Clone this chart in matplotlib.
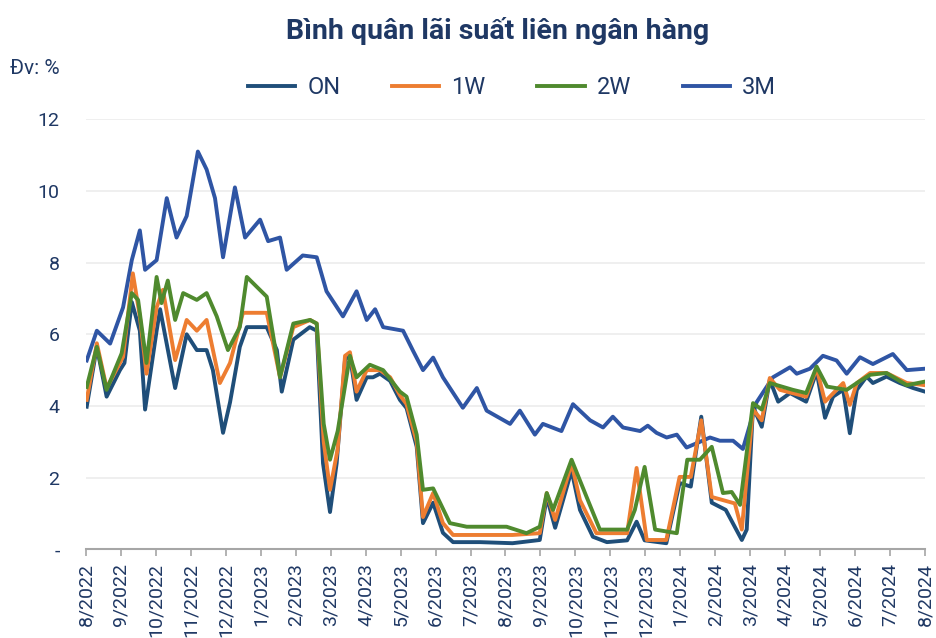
import matplotlib
matplotlib.use("Agg")
import matplotlib.pyplot as plt
from matplotlib.lines import Line2D

plt.rcParams['font.family'] = ['Roboto', 'DejaVu Sans']

# ---- data (months since 8/2022) ----
tick_labels = ["8/2022", "9/2022", "10/2022", "11/2022", "12/2022", "1/2023", "2/2023",
               "3/2023", "4/2023", "5/2023", "6/2023", "7/2023", "8/2023", "9/2023",
               "10/2023", "11/2023", "12/2023", "1/2024", "2/2024", "3/2024", "4/2024",
               "5/2024", "6/2024", "7/2024", "8/2024"]

on_x = [0.02, 0.31, 0.59, 0.97, 1.1, 1.31, 1.54, 1.69, 2.02, 2.12, 2.55, 2.88, 3.17, 3.45,
        3.63, 3.92, 4.12, 4.4, 4.6, 5.17, 5.46, 5.6, 5.93, 6.4, 6.6, 6.78, 6.98, 7.17, 7.41,
        7.55, 7.74, 8.03, 8.21, 8.41, 8.7, 8.98, 9.17, 9.46, 9.64, 9.93, 10.21, 10.5, 11.27,
        12.2, 12.98, 13.18, 13.42, 13.89, 14.13, 14.5, 14.9, 15.48, 15.75, 15.98, 16.6,
        16.98, 17.3, 17.6, 17.9, 18.3, 18.76, 18.9, 19.08, 19.33, 19.56, 19.8, 20.14, 20.6,
        20.9, 21.14, 21.37, 21.66, 21.85, 22.05, 22.33, 22.51, 22.9, 23.28, 23.66, 24.0]
on_y = [3.98, 5.65, 4.26, 5.0, 5.2, 6.9, 6.1, 3.9, 6.1, 6.7, 4.5, 6.0, 5.56, 5.56,
        5.0, 3.25, 4.1, 5.65, 6.2, 6.2, 5.56, 4.4, 5.85, 6.2, 6.1, 2.4, 1.04, 2.4, 5.3,
        5.4, 4.17, 4.8, 4.8, 4.9, 4.7, 4.17, 3.94, 2.86, 0.73, 1.3, 0.46, 0.2, 0.2,
        0.17, 0.26, 1.46, 0.6, 2.2, 1.1, 0.35, 0.2, 0.25, 0.77, 0.25, 0.17,
        1.85, 1.75, 3.7, 1.3, 1.1, 0.26, 0.55, 3.98, 3.42, 4.73, 4.12, 4.36, 4.12,
        4.96, 3.67, 4.26, 4.45, 3.24, 4.45, 4.82, 4.64, 4.82, 4.64, 4.5, 4.4]

w1_x = [0.02, 0.31, 0.59, 1.06, 1.34, 1.54, 1.73, 2.02, 2.2, 2.55, 2.88, 3.17, 3.45, 3.83,
        4.12, 4.49, 5.17, 5.55, 5.93, 6.41, 6.6, 6.8, 6.98, 7.2, 7.41, 7.55, 7.74, 8.03,
        8.41, 8.7, 8.98, 9.17, 9.46, 9.64, 9.93, 10.21, 10.5, 12.2, 12.98, 13.18, 13.42,
        13.89, 14.13, 14.6, 15.48, 15.75, 16.04, 16.6, 16.98, 17.3, 17.6, 17.9, 18.56,
        18.76, 19.08, 19.33, 19.56, 19.85, 20.6, 20.9, 21.14, 21.66, 21.85, 22.05, 22.43,
        22.9, 23.48, 24.0]
w1_y = [4.17, 5.75, 4.5, 5.37, 7.7, 6.5, 4.9, 6.75, 7.24, 5.28, 6.4, 6.1, 6.4, 4.64,
        5.2, 6.6, 6.6, 4.8, 6.2, 6.4, 6.3, 3.0, 1.66, 2.8, 5.4, 5.5, 4.4, 5.0,
        5.0, 4.8, 4.3, 4.05, 3.0, 0.9, 1.57, 0.73, 0.4, 0.4, 0.45, 1.57, 0.82,
        2.4, 1.37, 0.45, 0.45, 2.27, 0.26, 0.26, 2.02, 2.02, 3.6, 1.46, 1.28,
        0.55, 3.9, 3.6, 4.78, 4.45, 4.26, 5.05, 4.12, 4.64, 4.03, 4.64, 4.92,
        4.92, 4.64, 4.58]

w2_x = [0.02, 0.31, 0.59, 1.02, 1.31, 1.49, 1.73, 2.02, 2.16, 2.34, 2.55, 2.78, 3.17, 3.45,
        3.74, 4.06, 4.4, 4.6, 5.17, 5.55, 5.93, 6.41, 6.6, 6.8, 6.98, 7.2, 7.55, 7.74,
        8.12, 8.5, 8.98, 9.17, 9.46, 9.64, 9.93, 10.41, 10.89, 12.03, 12.6, 12.98, 13.18,
        13.36, 13.89, 14.32, 14.7, 15.48, 15.7, 15.98, 16.28, 16.9, 17.2, 17.56, 17.9,
        18.22, 18.47, 18.71, 19.08, 19.33, 19.56, 20.22, 20.6, 20.9, 21.2, 21.76, 22.05,
        22.43, 22.9, 23.48, 24.0]
w2_y = [4.53, 5.65, 4.45, 5.47, 7.15, 6.96, 5.2, 7.6, 6.87, 7.5, 6.4, 7.15, 6.96, 7.15,
        6.5, 5.56, 6.2, 7.6, 7.05, 4.8, 6.3, 6.4, 6.3, 3.5, 2.5, 3.3, 5.4, 4.8,
        5.15, 5.0, 4.4, 4.26, 3.2, 1.66, 1.7, 0.73, 0.63, 0.63, 0.45, 0.63, 1.57,
        1.1, 2.5, 1.46, 0.55, 0.55, 1.1, 2.3, 0.55, 0.45, 2.5, 2.5, 2.86,
        1.57, 1.6, 1.24, 4.08, 3.9, 4.64, 4.45, 4.36, 5.1, 4.54, 4.45, 4.64,
        4.87, 4.92, 4.58, 4.68]

m3_x = [0.02, 0.31, 0.69, 1.06, 1.31, 1.54, 1.69, 2.02, 2.31, 2.59, 2.88, 3.2, 3.45, 3.69,
        3.92, 4.26, 4.55, 4.98, 5.21, 5.55, 5.74, 6.2, 6.6, 6.88, 7.35, 7.74, 8.03, 8.27,
        8.5, 9.07, 9.35, 9.64, 9.93, 10.21, 10.78, 11.18, 11.46, 12.13, 12.41, 12.84,
        13.07, 13.6, 13.93, 14.42, 14.79, 15.07, 15.36, 15.85, 16.07, 16.32, 16.61, 16.9,
        17.18, 17.85, 18.13, 18.51, 18.79, 19.18, 19.65, 20.14, 20.33, 20.71, 21.08,
        21.47, 21.76, 22.14, 22.51, 23.08, 23.48, 24.0]
m3_y = [5.27, 6.1, 5.74, 6.75, 8.07, 8.9, 7.8, 8.07, 9.8, 8.7, 9.3, 11.1, 10.6, 9.8,
        8.15, 10.1, 8.7, 9.2, 8.6, 8.7, 7.8, 8.2, 8.15, 7.2, 6.5, 7.2, 6.4, 6.7,
        6.2, 6.1, 5.55, 5.0, 5.35, 4.8, 3.95, 4.5, 3.87, 3.5, 3.87, 3.2,
        3.5, 3.3, 4.05, 3.6, 3.4, 3.7, 3.4, 3.3, 3.45, 3.25, 3.12, 3.2,
        2.84, 3.12, 3.03, 3.03, 2.8, 4.1, 4.8, 5.08, 4.9, 5.04, 5.4,
        5.27, 4.9, 5.36, 5.17, 5.45, 5.0, 5.04]

y_ticks = [0, 2, 4, 6, 8, 10, 12]
y_tick_labels = ["-", "2", "4", "6", "8", "10", "12"]

# ---- style ----
TXT = "#1f3864"
C_ON = "#1f4e79"
C_1W = "#ed7d31"
C_2W = "#4f8a2e"
C_3M = "#2f55a4"

fig = plt.figure(figsize=(9.36, 6.38), dpi=100)
ax = fig.add_axes([86/936, 1 - 549.3/638, (925-86)/936, (549.3-119.3)/638])

lw = 2.8
ax.plot(m3_x, m3_y, color=C_3M, lw=lw, zorder=3)
ax.plot(on_x, on_y, color=C_ON, lw=lw, zorder=4)
ax.plot(w1_x, w1_y, color=C_1W, lw=lw, zorder=5)
ax.plot(w2_x, w2_y, color=C_2W, lw=lw, zorder=6)

ax.set_xlim(0, 24)
ax.set_ylim(0, 12)
ax.set_yticks(y_ticks)
ax.set_yticklabels(y_tick_labels, fontsize=14, color=TXT)
ax.tick_params(axis='y', length=0, pad=19)
ax.set_xticks(range(len(tick_labels)))
ax.set_xticklabels(tick_labels, rotation=90, fontsize=14, color=TXT, va='top')
ax.tick_params(axis='x', length=5, color="#a6a6a6", width=1.2, pad=5)

for s in ["top", "right", "left"]:
    ax.spines[s].set_visible(False)
ax.spines["bottom"].set_color("#a6a6a6")
ax.spines["bottom"].set_linewidth(1.5)
ax.grid(axis='y', color="#ececec", lw=1.2)
ax.set_axisbelow(True)

fig.text(498/936, 1 - 31/638, "Bình quân lãi suất liên ngân hàng", ha='center', va='center',
         fontsize=20.5, fontweight='bold', color=TXT)
fig.text(10/936, 1 - 68/638, "Đv: %", ha='left', va='center', fontsize=15, color=TXT)

handles = [Line2D([], [], color=c, lw=2.8) for c in (C_ON, C_1W, C_2W, C_3M)]
fig.legend(handles, ["ON", "1W", "2W", "3M"], loc='center', bbox_to_anchor=(512/936, 1 - 88/638),
           ncol=4, frameon=False, fontsize=17, handlelength=2.0, handletextpad=0.5,
           columnspacing=2.2, labelcolor=TXT)

fig.savefig("out.png", dpi=100)
